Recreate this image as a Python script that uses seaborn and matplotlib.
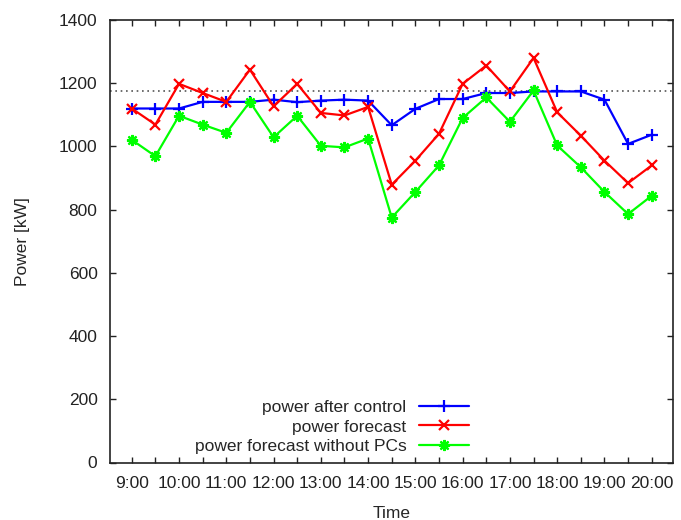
import matplotlib
matplotlib.use("Agg")
import matplotlib.pyplot as plt
import seaborn as sns
import pandas as pd

times = ["9:00", "9:30", "10:00", "10:30", "11:00", "11:30", "12:00", "12:30",
         "13:00", "13:30", "14:00", "14:30", "15:00", "15:30", "16:00", "16:30",
         "17:00", "17:30", "18:00", "18:30", "19:00", "19:30", "20:00"]
power_after_control = [1120, 1120, 1120, 1141, 1141, 1141, 1148, 1140, 1145, 1148, 1145, 1067,
                       1119, 1150, 1150, 1169, 1169, 1174, 1174, 1174, 1148, 1008, 1037]
power_forecast = [1120, 1069, 1198, 1169, 1141, 1243, 1127, 1198, 1106, 1098, 1125, 879,
                  955, 1040, 1198, 1256, 1174, 1280, 1108, 1034, 955, 884, 940]
power_forecast_no_pc = [1021, 969, 1097, 1069, 1043, 1141, 1029, 1097, 1002, 997, 1025, 775,
                        856, 940, 1090, 1155, 1078, 1177, 1003, 934, 856, 786, 844]
limit = 1175
series_names = ["power after control", "power forecast", "power forecast without PCs"]
y_ticks = [0, 200, 400, 600, 800, 1000, 1200, 1400]

sns.set_style("ticks")
plt.rcParams['font.family'] = ['Liberation Sans', 'DejaVu Sans']
plt.rcParams['xtick.direction'] = 'in'
plt.rcParams['ytick.direction'] = 'in'

fs = 12.5
fig = plt.figure(figsize=(6.81, 5.20), dpi=100)
ax = fig.add_axes([110 / 681, 1 - 462.5 / 520, (673 - 110) / 681, (462.5 - 20) / 520])

idx = list(range(len(times)))
colors = ["#0000ff", "#ff0000", "#00ff00"]
markers = ["+", "x", (8, 2, 0)]
msizes = [9, 7, 8]
for vals, name, c, m, ms in zip([power_after_control, power_forecast, power_forecast_no_pc],
                                series_names, colors, markers, msizes):
    df = pd.DataFrame({"t": idx, "p": vals})
    sns.lineplot(data=df, x="t", y="p", ax=ax, color=c, marker=m, markersize=ms,
                 markeredgewidth=1.6, markeredgecolor=c, linewidth=1.6, label=name)

ax.axhline(limit, color="#555555", linestyle=(0, (1, 2.2)), linewidth=1.2, zorder=0)

ax.set_xlim(-0.92, 22.9)
ax.set_ylim(0, 1400)
ax.set_xticks(idx)
ax.set_xticklabels([t if i % 2 == 0 else "" for i, t in enumerate(times)])
ax.set_yticks(y_ticks)
ax.tick_params(axis="both", which="both", top=True, right=True, length=4, width=1,
               labelsize=fs, colors="#222222", pad=9)
ax.tick_params(axis="x", pad=10)
for s in ax.spines.values():
    s.set_linewidth(1.2)
    s.set_color("#222222")

ax.set_xlabel("Time", fontsize=fs)
ax.set_ylabel("Power [kW]", fontsize=fs)
ax.xaxis.set_label_coords(0.5, (462.5 - 506) / 442.5)
ax.yaxis.set_label_coords((30 - 110) / 563, 0.5)

leg = ax.legend(loc="lower right", bbox_to_anchor=((469 - 110) / 563, (462.5 - 454) / 442.5),
                frameon=False, markerfirst=False, fontsize=fs, handlelength=2.9,
                labelspacing=0.25, handletextpad=0.7, borderaxespad=0, borderpad=0)

fig.savefig("out.png", dpi=100)
